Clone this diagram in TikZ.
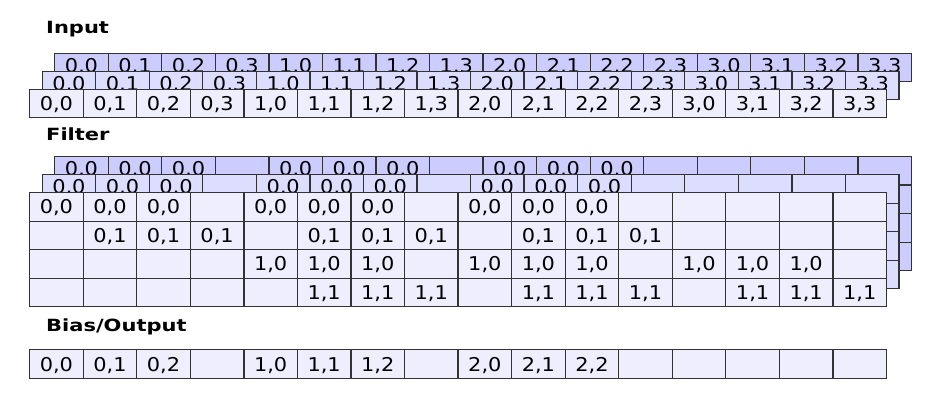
\documentclass[tikz,border=0pt]{standalone}
\usepackage{fontspec}
\newfontfamily\cellfont[FakeStretch=1.1]{DejaVu Sans}
\newfontfamily\titlefont[FakeStretch=1.25]{DejaVu Sans}
\definecolor{linec}{RGB}{51,51,51}
\definecolor{bkc}{RGB}{204,204,255}
\definecolor{mdc}{RGB}{221,221,255}
\definecolor{frc}{RGB}{238,238,255}
\begin{document}
\begin{tikzpicture}[x=1pt,y=-1pt,
  cell/.style={draw=linec, line width=1.3pt, rectangle, inner sep=0pt,
    minimum width=53.55pt, minimum height=28pt, anchor=north west,
    font=\cellfont\fontsize{19}{21}\selectfont, text height=14pt, text depth=0pt},
  ttl/.style={anchor=base west, inner sep=0pt,
    font=\titlefont\bfseries\fontsize{16.8}{19}\selectfont}]
\useasboundingbox (0,0) rectangle (947,406);

% titles
\node[ttl] (tIn) at (46,34) {Input};
\node[ttl] (tFi) at (46,140.5) {Filter};
\node[ttl] (tBo) at (46,331) {Bias/Output};

% Input layers
\foreach \L/\dx/\dy/\col/\td in {b/25/-36/bkc/4.5, m/12.5/-18/mdc/4.5, f/0/0/frc/0} {
  \foreach \ii in {0,...,15} {
    \pgfmathtruncatemacro\ra{int(\ii/4)}
    \pgfmathtruncatemacro\rb{mod(\ii,4)}
    \node[cell, fill=\col, text depth=\td pt] (in-\L-\ii) at ({29+\dx+\ii*53.55},{89+\dy}) {\ra,\rb};
  }
}

% Filter layers
\foreach \L/\dx/\dy/\col/\td in {b/25/-36/bkc/4, m/12.5/-18/mdc/4, f/0/0/frc/0} {
  \foreach \rr in {0,...,3} {
    \pgfmathtruncatemacro\ss{\rr+2*int(\rr/2)}
    \pgfmathtruncatemacro\ra{int(\rr/2)}
    \pgfmathtruncatemacro\rb{mod(\rr,2)}
    \foreach \cc in {0,...,15} {
      \pgfmathtruncatemacro\kk{\cc-\ss}
      \pgfmathtruncatemacro\show{and(\kk>=0, and(\kk<11, mod(\kk+8,4)!=3))}
      \ifnum\show=1 \def\celltxt{\ra,\rb}\else\def\celltxt{}\fi
      \node[cell, fill=\col, minimum height=28.5pt, text depth=\td pt] (fl-\L-\rr-\cc)
        at ({29+\dx+\cc*53.55},{192+\dy+\rr*28.5}) {\celltxt};
    }
  }
}

% Bias/Output
\foreach \cc in {0,...,15} {
  \pgfmathtruncatemacro\show{and(\cc<11, mod(\cc,4)!=3)}
  \pgfmathtruncatemacro\ra{int(\cc/4)}
  \pgfmathtruncatemacro\rb{mod(\cc,4)}
  \ifnum\show=1 \def\celltxt{\ra,\rb}\else\def\celltxt{}\fi
  \node[cell, fill=frc, minimum height=29pt] (bo-\cc) at ({29+\cc*53.55},349) {\celltxt};
}
\end{tikzpicture}
\end{document}
